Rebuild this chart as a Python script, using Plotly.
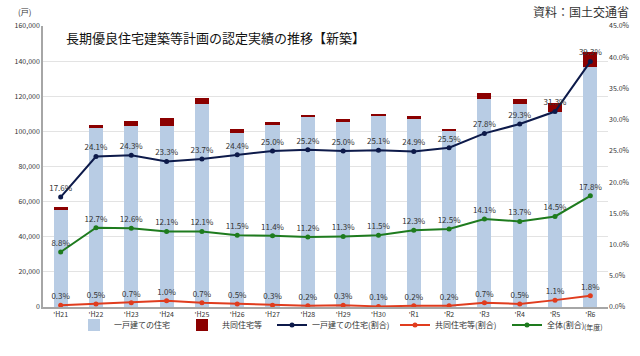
import plotly.graph_objects as go

years = ["'H21", "'H22", "'H23", "'H24", "'H25", "'H26", "'H27", "'H28", "'H29", "'H30",
         "'R1", "'R2", "'R3", "'R4", "'R5", "'R6"]
detached = [55500, 101900, 102800, 102800, 115700, 98800, 103500, 108100, 105300, 108800,
            107300, 100500, 118500, 115500, 111100, 136800]
collective = [1500, 1900, 3000, 4900, 3400, 2300, 1700, 1300, 2000, 800,
              1400, 1100, 3400, 2800, 5100, 8500]
detached_pct = [17.6, 24.1, 24.3, 23.3, 23.7, 24.4, 25.0, 25.2, 25.0, 25.1,
                24.9, 25.5, 27.8, 29.3, 31.3, 39.3]
collective_pct = [0.3, 0.5, 0.7, 1.0, 0.7, 0.5, 0.3, 0.2, 0.3, 0.1,
                  0.2, 0.2, 0.7, 0.5, 1.1, 1.8]
total_pct = [8.8, 12.7, 12.6, 12.1, 12.1, 11.5, 11.4, 11.2, 11.3, 11.5,
             12.3, 12.5, 14.1, 13.7, 14.5, 17.8]

FONT = "Noto Sans CJK JP"
lab_font = dict(family=FONT, size=8, color="#333333")

fig = go.Figure()
fig.add_trace(go.Bar(x=years, y=detached, name="一戸建ての住宅", legend="legend",
                     marker=dict(color="#B8CCE4", line=dict(width=0))))
fig.add_trace(go.Bar(x=years, y=collective, name="共同住宅等", legend="legend2",
                     marker=dict(color="#8B0000", line=dict(width=0))))

def line(vals, name, color, lg):
    return go.Scatter(x=years, y=vals, name=name, yaxis="y2", legend=lg,
                      mode="lines+markers+text",
                      line=dict(color=color, width=2),
                      marker=dict(color=color, size=5),
                      text=[f"{v:.1f}%" for v in vals],
                      textposition="top center",
                      textfont=lab_font, cliponaxis=False)

fig.add_trace(line(detached_pct, "一戸建ての住宅(割合)", "#0D1A4A", "legend3"))
fig.add_trace(line(collective_pct, "共同住宅等(割合)", "#E03C1E", "legend4"))
fig.add_trace(line(total_pct, "全体(割合)", "#1E7B1E", "legend5"))

L, R, T, B = 43, 32, 26, 49
W, H = 640, 356
pw, ph = W - L - R, H - T - B

def px(x):
    return (x - L) / pw

def py(y):
    return (H - B - y) / ph

def leg(xpix):
    return dict(orientation="h", xref="container", yref="container",
                x=xpix / W, xanchor="left", y=(H - 325) / H, yanchor="middle",
                bgcolor="rgba(0,0,0,0)", itemwidth=30,
                font=dict(family=FONT, size=8, color="#333333"))

fig.update_layout(
    width=W, height=H,
    margin=dict(l=L, r=R, t=T, b=B, autoexpand=False),
    barmode="stack", bargap=0.6,
    plot_bgcolor="white", paper_bgcolor="white",
    font=dict(family=FONT, size=7, color="#333333"),
    showlegend=True,
    legend=leg(74), legend2=leg(182), legend3=leg(272), legend4=leg(395), legend5=leg(507),
    xaxis=dict(range=[-0.5, 15.5], showline=True, linecolor="#A6A6A6", linewidth=2, ticks="",
               tickfont=dict(size=7), showgrid=False, automargin=False),
    yaxis=dict(range=[0, 160000], dtick=20000, tickformat=",d",
               showline=True, linecolor="#A6A6A6", linewidth=1.5,
               showgrid=True, gridcolor="#E3E3E3", gridwidth=1,
               tickfont=dict(size=7), zeroline=False, automargin=False),
    yaxis2=dict(range=[0, 45], dtick=5, overlaying="y", side="right",
                ticksuffix="%", tickformat=".1f", showgrid=False,
                tickfont=dict(size=7), zeroline=False, showline=False, automargin=False),
    annotations=[
        dict(text="長期優良住宅建築等計画の認定実績の推移【新築】", x=px(64), y=py(37), xref="paper", yref="paper",
             showarrow=False, font=dict(family=FONT, size=13, color="#111111"), xanchor="left", yanchor="middle"),
        dict(text="資料：国土交通省", x=px(631), y=py(12), xref="paper", yref="paper", showarrow=False,
             font=dict(family=FONT, size=12, color="#333333"), xanchor="right", yanchor="middle"),
        dict(text="(戸)", x=px(24), y=py(11), xref="paper", yref="paper", showarrow=False,
             font=dict(family=FONT, size=8, color="#333333"), xanchor="center", yanchor="middle"),
        dict(text="(年度)", x=px(593), y=py(327), xref="paper", yref="paper", showarrow=False,
             font=dict(family=FONT, size=7, color="#333333"), xanchor="center", yanchor="middle"),
    ],
)

fig.write_html("out.html", config={"displayModeBar": False},
               post_script="document.body.style.margin='0';document.body.style.padding='0';")
